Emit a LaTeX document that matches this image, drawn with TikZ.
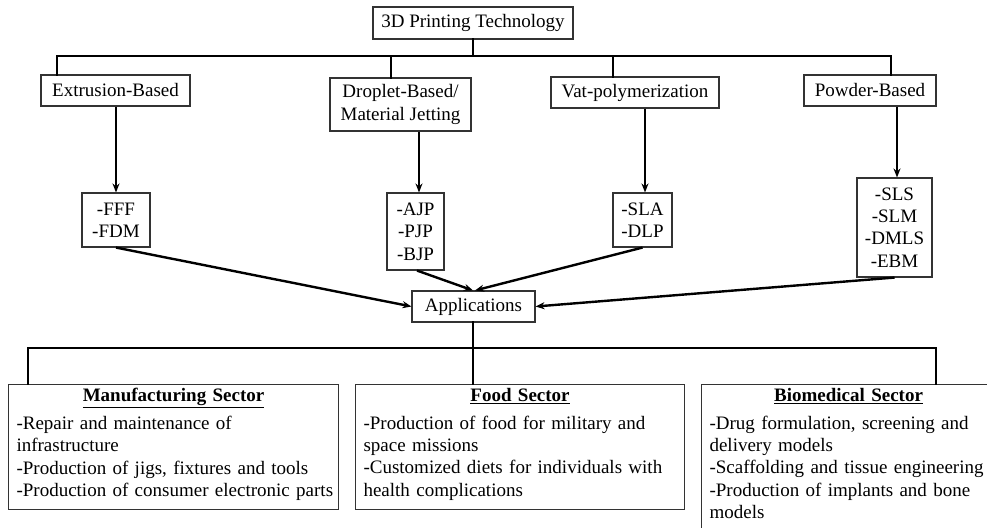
\documentclass[tikz,border=0pt]{standalone}
\usepackage{fontspec}
\setmainfont{Liberation Serif}
\usetikzlibrary{arrows.meta,calc}
\newcommand{\lastdepth}{\rule[-9pt]{0pt}{9pt}}
\begin{document}
\begin{tikzpicture}[x=1pt,y=-1pt,
  font=\fontsize{19}{22.4}\selectfont,
  box/.style={draw=black!80,line width=1.1pt,inner sep=0pt,align=center},
  sector/.style={draw=black!80,line width=1.1pt,anchor=north west,align=left,inner xsep=8pt,inner ysep=4pt},
  tree/.style={line width=2.4pt,line cap=rect},
  arr/.style={line width=2.4pt,-{Stealth[length=9pt,width=7pt]}}]
\clip (0,0) rectangle (987,527);
\fill[white] (0,0) rectangle (987,527);
% top level
\node[box,minimum width=200pt,minimum height=32pt] (top) at (473,23) {3D Printing Technology};
\node[box,minimum width=149pt,minimum height=31pt] (ext) at (115.5,90.5) {Extrusion-Based};
\node[box,minimum width=141pt,minimum height=53pt] (drop) at (400.5,104.5) {Droplet-Based/\\Material Jetting};
\node[box,minimum width=168pt,minimum height=31pt] (vat) at (635,92.5) {Vat-polymerization};
\node[box,minimum width=132pt,minimum height=31pt] (pow) at (870,90.5) {Powder-Based};
% technologies
\node[box,minimum width=68pt,minimum height=54pt] (fff) at (116,220) {-FFF\\-FDM};
\node[box,minimum width=57pt,minimum height=77pt] (ajp) at (415.5,231.5) {-AJP\\-PJP\\-BJP};
\node[box,minimum width=59pt,minimum height=54pt] (sla) at (642.5,220) {-SLA\\-DLP};
\node[box,minimum width=75pt,minimum height=99pt] (sls) at (894.5,227.5) {-SLS\\-SLM\\-DMLS\\-EBM};
\node[box,minimum width=123pt,minimum height=31pt] (app) at (473.5,306.5) {Applications};
% sectors
\node[sector,text width=314pt] (man) at (8,384) {\makebox[\hsize][c]{\underline{\textbf{Manufacturing Sector}}}\\[5pt]\mbox{-Repair and maintenance of}\\\mbox{infrastructure}\\\mbox{-Production of jigs, fixtures and tools}\\\mbox{-Production of consumer electronic parts}\lastdepth};
\node[sector,text width=313pt] (food) at (355,384) {\makebox[\hsize][c]{\underline{\textbf{Food Sector}}}\\[5pt]\mbox{-Production of food for military and}\\\mbox{space missions}\\\mbox{-Customized diets for individuals with}\\\mbox{health complications}\lastdepth};
\node[sector,text width=278pt] (bio) at (701,384) {\makebox[\hsize][c]{\underline{\textbf{Biomedical Sector}}}\\[5pt]\mbox{-Drug formulation, screening and}\\\mbox{delivery models}\\\mbox{-Scaffolding and tissue engineering}\\\mbox{-Production of implants and bone}\\\mbox{models}\lastdepth};
% top tree
\coordinate (b0) at (473,56);
\coordinate (b1) at (57,56);
\coordinate (b2) at (391,56);
\coordinate (b3) at (613,56);
\coordinate (b4) at (891,56);
\draw[tree] (top.south) -- (b0);
\draw[tree] (b1 |- ext.north) -- (b1) -- (b4) -- (b4 |- pow.north);
\draw[tree] (b2) -- (b2 |- drop.north);
\draw[tree] (b3) -- (b3 |- vat.north);
% down arrows
\draw[arr] (ext.south -| fff.north) -- (fff.north);
\coordinate (a2) at (419,0);
\draw[arr] (a2 |- drop.south) -- (a2 |- ajp.north);
\coordinate (a3) at (645,0);
\draw[arr] (a3 |- vat.south) -- (a3 |- sla.north);
\coordinate (a4) at (897,0);
\draw[arr] (a4 |- pow.south) -- (a4 |- sls.north);
% to applications
\draw[arr] (fff.south) -- (app.west);
\draw[arr] ($(ajp.south)+(1.5,0)$) -- ($(app.north)+(-0.5,0)$);
\draw[arr] (sla.south) -- ($(app.north)+(1.5,0)$);
\draw[arr] (sls.south) -- (app.east);
% bottom tree
\coordinate (c0) at (473,348);
\coordinate (c1) at (28,348);
\coordinate (c3) at (936,348);
\draw[tree] (app.south -| c0) -- (c0 |- food.north);
\draw[tree] (c1 |- man.north) -- (c1) -- (c3) -- (c3 |- bio.north);
\end{tikzpicture}
\end{document}
